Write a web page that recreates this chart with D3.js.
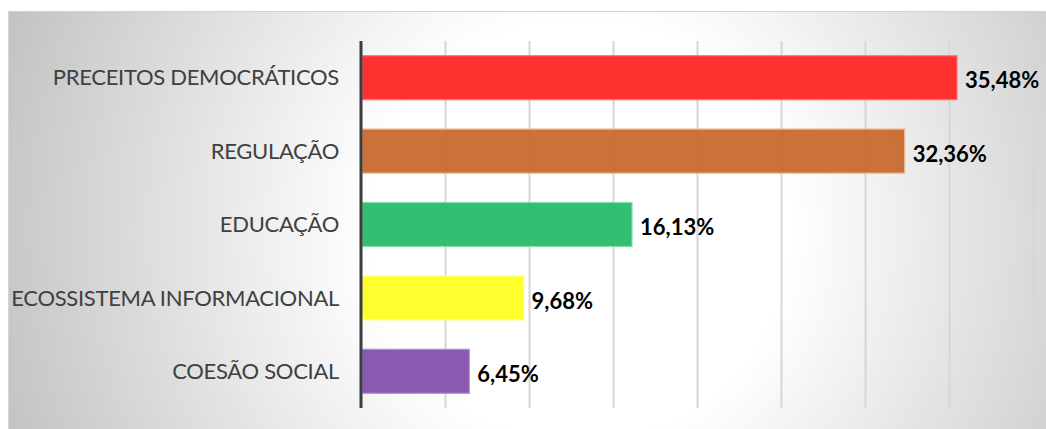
<!DOCTYPE html>
<html><head><meta charset="utf-8">
<script src="https://cdn.jsdelivr.net/npm/d3@7"></script>
<style>html,body{margin:0;padding:0;background:#fff;overflow:hidden}</style>
</head><body>
<svg id="c" width="1046" height="429"></svg>
<script>
const categories = ["PRECEITOS DEMOCRÁTICOS","REGULAÇÃO","EDUCAÇÃO","ECOSSISTEMA INFORMACIONAL","COESÃO SOCIAL"];
const values = [35.48, 32.36, 16.13, 9.68, 6.45];
const valueLabels = ["35,48%","32,36%","16,13%","9,68%","6,45%"];
const barColors = ["#ff2626","#c86a30","#28bb6a","#ffff22","#8450ae"];
const barStrokes = ["#ff7a7a","#f2b48a","#86dcaa","#ffff90","#b592d6"];
const xTicks = [0,5,10,15,20,25,30,35,40];

const svg = d3.select("#c");
const defs = svg.append("defs");
const rg = defs.append("radialGradient").attr("id","bg").attr("gradientUnits","userSpaceOnUse")
  .attr("cx",580).attr("cy",230).attr("r",600);
rg.append("stop").attr("offset","0").attr("stop-color","#ffffff");
rg.append("stop").attr("offset","0.35").attr("stop-color","#ffffff");
rg.append("stop").attr("offset","1").attr("stop-color","#c4c4c4");

const gg = defs.append("linearGradient").attr("id","grid").attr("gradientUnits","userSpaceOnUse")
  .attr("x1",361).attr("y1",0).attr("x2",1040).attr("y2",0);
gg.append("stop").attr("offset","0").attr("stop-color","#d6d6d6");
gg.append("stop").attr("offset","0.5").attr("stop-color","#c4c4c4");
gg.append("stop").attr("offset","1").attr("stop-color","#888888");

svg.append("rect").attr("x",8.5).attr("y",11.5).attr("width",1045).attr("height",425)
  .attr("fill","url(#bg)").attr("stroke","#d4d4d4").attr("stroke-width",1);

const plotLeft = 361, plotTop = 41, plotBottom = 408;
const x = d3.scaleLinear().domain([0,40]).range([plotLeft, 1033]);
const y = d3.scaleBand().domain(categories).range([plotTop, plotBottom]).paddingInner(0.4).paddingOuter(0.2);

const gridAxis = d3.axisBottom(x).tickValues(xTicks.slice(1)).tickSize(-(plotBottom-plotTop)).tickFormat("");
const gGrid = svg.append("g").attr("transform",`translate(0,${plotBottom})`).call(gridAxis);
gGrid.select(".domain").remove();
gGrid.selectAll(".tick line").attr("stroke","url(#grid)").attr("stroke-width",2);

svg.append("g").selectAll("rect").data(categories).join("rect")
  .attr("x", x(0)+1)
  .attr("y", d => y(d))
  .attr("width", (d,i) => x(values[i]) - x(0) - 1)
  .attr("height", y.bandwidth())
  .attr("fill", (d,i) => barColors[i])
  .attr("fill-opacity", 0.95)
  .attr("stroke", (d,i) => barStrokes[i])
  .attr("stroke-width", 1.2);

const yAxis = d3.axisLeft(y).tickSize(0).tickPadding(22);
const gY = svg.append("g").attr("transform",`translate(${plotLeft},0)`).call(yAxis);
gY.select(".domain").remove();
gY.selectAll(".tick text").attr("fill","#404040").style("font-family","Lato, 'Open Sans', sans-serif")
  .style("font-size","22px").attr("dy","0.35em").style("letter-spacing","-0.3px");
svg.append("line").attr("x1",plotLeft).attr("x2",plotLeft).attr("y1",plotTop).attr("y2",plotBottom)
  .attr("stroke","#3d3d3d").attr("stroke-width",3);

svg.append("g").selectAll("text").data(categories).join("text")
  .attr("x", (d,i) => x(values[i]) + 8)
  .attr("y", d => y(d) + y.bandwidth()/2 + 3)
  .attr("dy","0.35em")
  .attr("fill","#000")
  .style("font-family","Lato, 'Open Sans', sans-serif")
  .style("font-weight","bold")
  .style("font-size","22px")
  .text((d,i) => valueLabels[i]);
</script>
</body></html>
